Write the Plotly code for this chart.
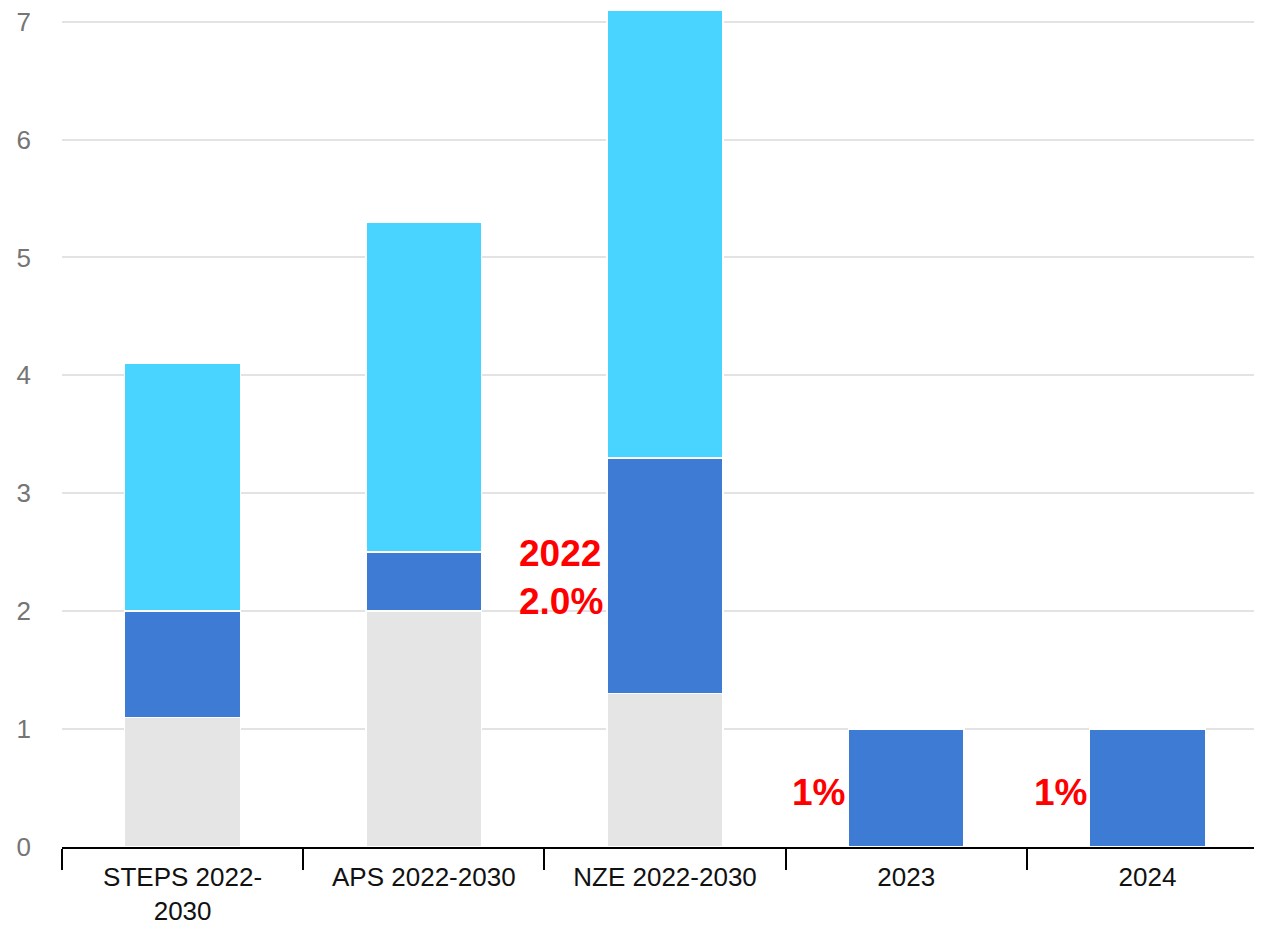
import plotly.graph_objects as go

categories = ["STEPS 2022-<br>2030", "APS 2022-2030", "NZE 2022-2030", "2023", "2024"]
base_vals = [1.1, 2.0, 1.3, None, None]
mid_vals = [0.9, 0.5, 2.0, 1.0, 1.0]
top_vals = [2.1, 2.8, 3.8, None, None]
y_ticks = [0, 1, 2, 3, 4, 5, 6, 7]

GREY = "#e5e5e5"
BLUE = "#3e7bd4"
CYAN = "#49d4ff"

fig = go.Figure()
for vals, col in [(base_vals, GREY), (mid_vals, BLUE), (top_vals, CYAN)]:
    fig.add_trace(go.Bar(
        x=categories, y=vals, marker=dict(color=col, line=dict(color="white", width=1.5)),
        width=0.48, showlegend=False, hoverinfo="skip",
    ))

ann_font = dict(family="Arial, Liberation Sans", size=37, color="#ff0000")
fig.add_annotation(x=1.76, y=2.29, xref="x", yref="y", text="<b>2022<br>2.0%</b>",
                   showarrow=False, xanchor="right", yanchor="middle", xshift=-2,
                   align="left", font=ann_font)
fig.add_annotation(x=2.76, y=0.46, xref="x", yref="y", text="<b>1%</b>",
                   showarrow=False, xanchor="right", yanchor="middle", xshift=-1, font=ann_font)
fig.add_annotation(x=3.76, y=0.46, xref="x", yref="y", text="<b>1%</b>",
                   showarrow=False, xanchor="right", yanchor="middle", xshift=-1, font=ann_font)

fig.update_layout(
    barmode="stack",
    width=1254, height=917,
    margin=dict(l=54, r=0, t=0, b=78),
    plot_bgcolor="white", paper_bgcolor="white",
    font=dict(family="Arial, Liberation Sans"),
)
fig.update_xaxes(
    type="category", automargin=False,
    tickson="boundaries", ticks="outside", ticklen=21, tickwidth=2, tickcolor="black",
    showline=True, linecolor="black", linewidth=2,
    showgrid=False,
    tickfont=dict(size=26, color="#111111"),
    ticklabelstandoff=6,
    range=[-0.5, 4.475],
)
fig.update_yaxes(
    range=[0, 7.116], tickvals=y_ticks, automargin=False,
    showgrid=True, gridcolor="#e3e3e3", gridwidth=2,
    zeroline=False, showline=False,
    tickfont=dict(size=26, color="#757575"),
    ticklabelstandoff=30, ticklabeloverflow="allow",
)

fig.write_html("out.html")
